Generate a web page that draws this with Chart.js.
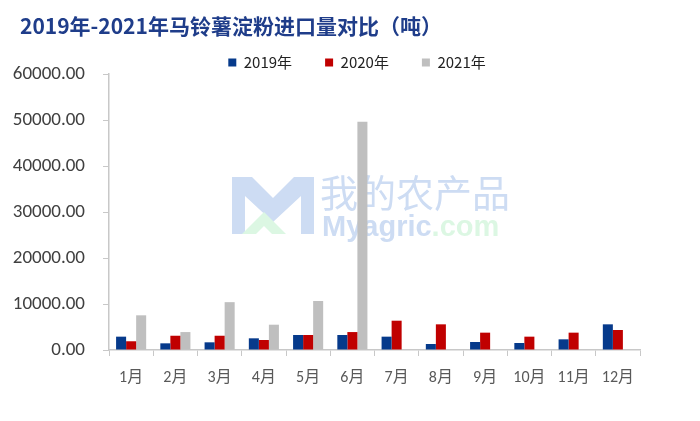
<!DOCTYPE html>
<html>
<head>
<meta charset="UTF-8">
<title>马铃薯淀粉进口量对比</title>
<style>
  body { margin: 0; background: #fff; }
  #wrap { position: relative; width: 700px; height: 421px; }
</style>
</head>
<body>
<div id="wrap">
  <canvas id="chart"></canvas>
</div>

<script src="https://cdn.jsdelivr.net/npm/chart.js@4/dist/chart.umd.min.js"></script>
<script>
  // data (tonnes)
  var months = ['1月', '2月', '3月', '4月', '5月', '6月', '7月', '8月', '9月', '10月', '11月', '12月'];
  var y2019 = [2900, 1450, 1670, 2540, 3260, 3260, 2900, 1300, 1740, 1520, 2320, 5580];
  var y2020 = [1900, 3100, 3100, 2170, 3260, 3900, 6370, 5580, 3770, 2900, 3770, 4350];
  var y2021 = [7540, 3900, 10400, 5500, 10650, 49600, null, null, null, null, null, null];
  var yTicks = [0, 10000, 20000, 30000, 40000, 50000, 60000];
  var titleText = '2019年-2021年马铃薯淀粉进口量对比（吨）';

  var font = "'Microsoft YaHei', 'Noto Sans CJK SC', 'Liberation Sans', sans-serif";
  var tickFont = "Calibri, Carlito, 'Liberation Sans', 'Noto Sans CJK SC', sans-serif";

  // title sits a bit in from the left edge, so draw it here
  var titlePlugin = {
    id: 'leftTitle',
    afterDraw: function(chart) {
      var c = chart.ctx;
      c.save();
      c.fillStyle = '#1f3d8a';
      c.font = "bold 21px " + font;
      c.textBaseline = 'middle';
      c.textAlign = 'left';
      c.fillText(titleText, 20, 26);
      c.restore();
    }
  };

  // faint site watermark behind the bars
  var watermark = {
    id: 'watermark',
    beforeDatasetsDraw: function(chart) {
      var c = chart.ctx;
      c.save();
      // logo
      c.fillStyle = '#cddcf3';
      c.beginPath();
      c.moveTo(232, 177); c.lineTo(252, 177); c.lineTo(273, 198); c.lineTo(294, 177);
      c.lineTo(314, 177); c.lineTo(314, 234); c.lineTo(301, 234); c.lineTo(301, 196);
      c.lineTo(273, 222); c.lineTo(245, 196); c.lineTo(245, 234); c.lineTo(232, 234);
      c.closePath();
      c.fill();
      c.fillStyle = '#dcf7e3';
      c.beginPath();
      c.moveTo(242, 234); c.lineTo(264, 212); c.lineTo(286, 234); c.lineTo(272, 234);
      c.lineTo(264, 226); c.lineTo(256, 234);
      c.closePath();
      c.fill();
      // text
      c.textBaseline = 'alphabetic';
      c.fillStyle = '#cddcf3';
      c.font = "38px 'Noto Sans CJK SC', sans-serif";
      c.fillText('我的农产品', 320, 207);
      c.font = "bold 29px 'Liberation Sans', sans-serif";
      c.fillText('Myagric', 322, 236);
      var w = c.measureText('Myagric').width;
      c.fillStyle = '#dcf7e3';
      c.fillText('.com', 322 + w, 236);
      c.restore();
    }
  };

  // legend row: wide item spacing but sitting close to the plot
  var legendHeight = {
    id: 'legendHeight',
    beforeInit: function(chart) {
      if (!chart.legend) return;
      var origFit = chart.legend.fit;
      chart.legend.fit = function() {
        origFit.call(this);
        this.height = 52;
      };
    },
    afterLayout: function(chart) {
      if (!chart.legend) return;
      chart.legend.left += 7;
      chart.legend.right += 7;
    }
  };

  var ctx = document.getElementById('chart');

  var chart = new Chart(ctx, {
    type: 'bar',
    data: {
      labels: months,
      datasets: [
        { label: '2019年', data: y2019, backgroundColor: '#063a8b' },
        { label: '2020年', data: y2020, backgroundColor: '#c00000' },
        { label: '2021年', data: y2021, backgroundColor: '#bfbfbf' }
      ]
    },
    options: {
      responsive: true,
      maintainAspectRatio: false,
      animation: false,
      layout: { padding: { left: 0, right: 0, top: 22, bottom: 0 } },
      datasets: {
        bar: { categoryPercentage: 0.68, barPercentage: 1.0 }
      },
      plugins: {
        title: { display: false },
        legend: {
          display: true,
          position: 'top',
          align: 'center',
          labels: {
            boxWidth: 8,
            boxHeight: 8,
            padding: 33,
            color: '#222',
            font: { family: font, size: 15 }
          }
        },
        tooltip: { enabled: false }
      },
      scales: {
        x: {
          grid: {
            display: true,
            drawOnChartArea: false,
            drawTicks: true,
            tickLength: 6,
            color: '#c8c8c8',
            offset: true
          },
          border: { display: true, color: '#c8c8c8', width: 1.5 },
          ticks: {
            color: '#595959',
            padding: 12,
            font: { family: tickFont, size: 16 }
          },
          afterFit: function(scale) { scale.height = 71; }
        },
        y: {
          min: 0,
          max: 60000,
          afterBuildTicks: function(scale) {
            scale.ticks = yTicks.map(function(v) { return { value: v }; });
          },
          grid: {
            display: true,
            drawOnChartArea: false,
            drawTicks: true,
            tickLength: 6,
            color: '#c8c8c8'
          },
          border: { display: true, color: '#c8c8c8', width: 1.5 },
          ticks: {
            color: '#404040',
            padding: 18,
            font: { family: tickFont, size: 19 },
            callback: function(v) { return Number(v).toFixed(2); }
          },
          afterFit: function(scale) { scale.width = 109; }
        },
        // empty right margin so the legend centres on the whole picture
        yRight: {
          position: 'right',
          min: 0,
          max: 60000,
          grid: { display: false },
          border: { display: false },
          ticks: { display: false },
          afterFit: function(scale) { scale.width = 60; }
        }
      }
    },
    plugins: [watermark, titlePlugin, legendHeight]
  });
</script>
</body>
</html>
